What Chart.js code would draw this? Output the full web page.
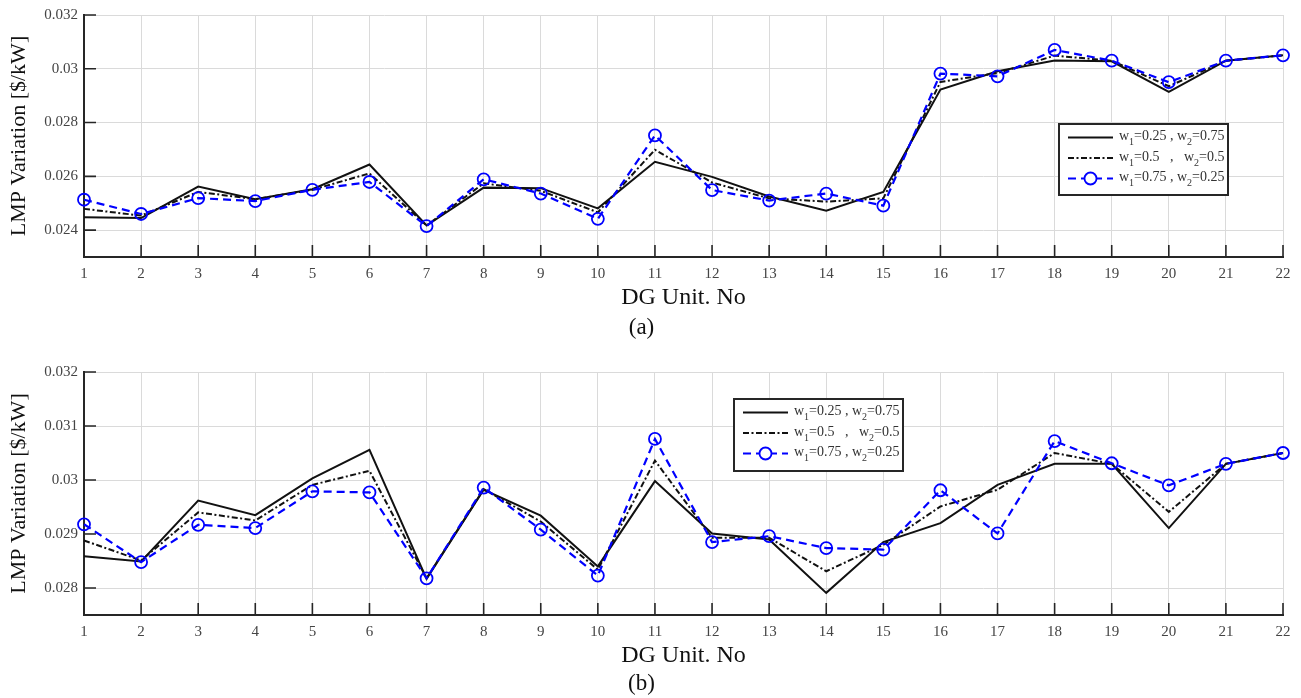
<!DOCTYPE html>
<html>
<head>
<meta charset="utf-8">
<title>LMP Variation per DG Unit</title>
<script src="https://cdn.jsdelivr.net/npm/chart.js@4.4.1/dist/chart.umd.min.js"></script>
<style>
  html, body { margin: 0; padding: 0; background: #fff; }
  canvas { display: block; }
</style>
</head>
<body>
<canvas id="chartA" width="1301" height="349"></canvas>
<canvas id="chartB" width="1301" height="349"></canvas>
<script>
const units = ['1', '2', '3', '4', '5', '6', '7', '8', '9', '10', '11',
  '12', '13', '14', '15', '16', '17', '18', '19', '20', '21', '22'];

const weightLabels = ['w_1=0.25 , w_2=0.75', 'w_1=0.5   ,   w_2=0.5', 'w_1=0.75 , w_2=0.25'];

// panel (a)
const lmpA25 = [0.02448, 0.02445, 0.02562, 0.02515, 0.02552, 0.02644, 0.02417, 0.02558, 0.02556, 0.02481, 0.02654,
  0.02598, 0.02525, 0.02472, 0.02542, 0.02923, 0.02991, 0.03031, 0.03028, 0.02914, 0.0303, 0.0305];
const lmpA50 = [0.02479, 0.02454, 0.02542, 0.02515, 0.0255, 0.02611, 0.02417, 0.02574, 0.02546, 0.02466, 0.02699,
  0.02577, 0.02518, 0.02506, 0.02518, 0.02951, 0.02984, 0.03049, 0.0303, 0.02935, 0.0303, 0.0305];
const lmpA75 = [0.02513, 0.0246, 0.02519, 0.02508, 0.0255, 0.02579, 0.02415, 0.02589, 0.02536, 0.02442, 0.02752,
  0.02549, 0.0251, 0.02536, 0.02491, 0.02982, 0.02972, 0.0307, 0.0303, 0.0295, 0.0303, 0.0305];
const yTicksA = [0.024, 0.026, 0.028, 0.030, 0.032];
const yTickLabelsA = ['0.024', '0.026', '0.028', '0.03', '0.032'];

// panel (b)
const lmpB25 = [0.02859, 0.02849, 0.02962, 0.02935, 0.03003, 0.03056, 0.02817, 0.02982, 0.02934, 0.0284, 0.02998,
  0.02901, 0.0289, 0.02791, 0.02885, 0.0292, 0.02991, 0.0303, 0.0303, 0.02911, 0.0303, 0.0305];
const lmpB50 = [0.02888, 0.02851, 0.0294, 0.02925, 0.02991, 0.03017, 0.02818, 0.02983, 0.02923, 0.02834, 0.03036,
  0.02893, 0.02893, 0.02831, 0.0288, 0.02951, 0.02982, 0.0305, 0.0303, 0.02941, 0.0303, 0.0305];
const lmpB75 = [0.02918, 0.02848, 0.02917, 0.02911, 0.02979, 0.02977, 0.02818, 0.02986, 0.02908, 0.02823, 0.03076,
  0.02885, 0.02896, 0.02874, 0.02871, 0.02981, 0.02901, 0.03072, 0.03031, 0.0299, 0.0303, 0.0305];
const yTicksB = [0.028, 0.029, 0.030, 0.031, 0.032];
const yTickLabelsB = ['0.028', '0.029', '0.03', '0.031', '0.032'];

const SERIF = '"Liberation Serif", "Times New Roman", serif';

// matlab style tick marks pointing into the plot
const insideTicks = {
  id: 'insideTicks',
  beforeDatasetsDraw(chart) {
    const {ctx, chartArea: area, scales: {x, y}} = chart;
    ctx.save();
    ctx.strokeStyle = '#262626';
    ctx.lineWidth = 1.6;
    ctx.beginPath();
    x.ticks.forEach((t, i) => {
      const px = x.getPixelForTick(i);
      ctx.moveTo(px, area.bottom);
      ctx.lineTo(px, area.bottom - 12);
    });
    y.ticks.forEach((t, i) => {
      const py = y.getPixelForTick(i);
      ctx.moveTo(area.left, py);
      ctx.lineTo(area.left + 12, py);
    });
    ctx.stroke();
    ctx.restore();
  }
};

// writes "w_1" style labels with real subscripts
function drawSubText(ctx, text, x, y) {
  const parts = text.split(/_(\d)/);
  parts.forEach((part, i) => {
    const sub = i % 2 === 1;
    ctx.font = (sub ? '10px ' : '14px ') + SERIF;
    ctx.fillText(part, x, sub ? y + 5 : y - 1);
    x += ctx.measureText(part).width;
  });
}

const weightLegend = {
  id: 'weightLegend',
  afterDatasetsDraw(chart, args, opts) {
    const {ctx} = chart;
    const {left, top, width, height} = opts;
    ctx.save();
    ctx.fillStyle = '#fff';
    ctx.fillRect(left, top, width, height);
    ctx.strokeStyle = '#262626';
    ctx.lineWidth = 2;
    ctx.strokeRect(left, top, width, height);

    chart.data.datasets.forEach((ds, i) => {
      const rowY = top + 13.5 + i * 20.5;
      ctx.strokeStyle = ds.borderColor;
      ctx.lineWidth = ds.borderWidth;
      ctx.setLineDash(ds.borderDash || []);
      ctx.beginPath();
      ctx.moveTo(left + 9, rowY);
      ctx.lineTo(left + 54, rowY);
      ctx.stroke();
      ctx.setLineDash([]);
      if (ds.pointRadius > 0) {
        ctx.fillStyle = '#fff';
        ctx.lineWidth = ds.pointBorderWidth;
        ctx.beginPath();
        ctx.arc(left + 31.5, rowY, ds.pointRadius, 0, Math.PI * 2);
        ctx.fill();
        ctx.stroke();
      }
      ctx.fillStyle = '#333';
      ctx.textBaseline = 'middle';
      ctx.textAlign = 'left';
      drawSubText(ctx, ds.label, left + 60, rowY);
    });
    ctx.restore();
  }
};

function makeChart(id, series, yMin, yMax, yTicks, yTickLabels, panel) {
  const datasets = [
    {
      label: weightLabels[0],
      data: series[0],
      borderColor: '#111',
      borderWidth: 2,
      pointRadius: 0,
      order: 2
    },
    {
      label: weightLabels[1],
      data: series[1],
      borderColor: '#111',
      borderWidth: 2,
      borderDash: [6, 2.5, 2, 2.5],
      pointRadius: 0,
      order: 1
    },
    {
      label: weightLabels[2],
      data: series[2],
      borderColor: '#0000ff',
      borderWidth: 2.2,
      borderDash: [8, 5],
      pointRadius: 6,
      pointBorderWidth: 1.8,
      pointBorderColor: '#0000ff',
      pointBackgroundColor: 'rgba(0,0,0,0)',
      order: 0
    }
  ];
  datasets.forEach(ds => {
    ds.fill = false;
    ds.tension = 0;
    ds.clip = false;
  });

  return new Chart(document.getElementById(id), {
    type: 'line',
    data: {labels: units, datasets},
    options: {
      responsive: false,
      animation: false,
      layout: {padding: {top: panel.padTop, right: 18, bottom: panel.padBottom, left: 0}},
      scales: {
        x: {
          offset: false,
          grid: {color: '#dadada', lineWidth: 1, drawTicks: false},
          border: {color: '#262626', width: 2},
          ticks: {
            color: '#444',
            padding: 8,
            maxRotation: 0,
            autoSkip: false,
            font: {family: SERIF, size: 15}
          },
          title: {
            display: true,
            text: 'DG Unit. No',
            color: '#111',
            padding: {top: 0, bottom: 0},
            font: {family: SERIF, size: 24}
          },
          afterFit(scale) { scale.height = 55; }
        },
        y: {
          min: yMin,
          max: yMax,
          grid: {color: '#dadada', lineWidth: 1, drawTicks: false},
          border: {color: '#262626', width: 2},
          afterBuildTicks(scale) {
            scale.ticks = yTicks.map(v => ({value: v}));
          },
          ticks: {
            color: '#444',
            padding: 6,
            font: {family: SERIF, size: 15},
            callback: (value, index) => yTickLabels[index]
          },
          title: {
            display: true,
            text: 'LMP Variation [$/kW]',
            color: '#111',
            padding: {top: 6, bottom: 0},
            font: {family: SERIF, size: 22}
          },
          afterFit(scale) { scale.width = 84; }
        }
      },
      plugins: {
        legend: {display: false},
        tooltip: {enabled: false},
        title: {
          display: true,
          position: 'bottom',
          text: panel.caption,
          color: '#111',
          padding: {top: panel.capPad, bottom: 0},
          font: {family: SERIF, size: 23, weight: 'normal'}
        },
        weightLegend: panel.legend
      }
    },
    plugins: [insideTicks, weightLegend]
  });
}

makeChart('chartA', [lmpA25, lmpA50, lmpA75], 0.023, 0.032, yTicksA, yTickLabelsA, {
  padTop: 14, padBottom: 6.9, capPad: 2.5, caption: '(a)',
  legend: {left: 1059, top: 124, width: 169, height: 71}
});

makeChart('chartB', [lmpB25, lmpB50, lmpB75], 0.0275, 0.032, yTicksB, yTickLabelsB, {
  padTop: 23, padBottom: 0, capPad: 0.4, caption: '(b)',
  legend: {left: 734, top: 50, width: 169, height: 72}
});
</script>
</body>
</html>
